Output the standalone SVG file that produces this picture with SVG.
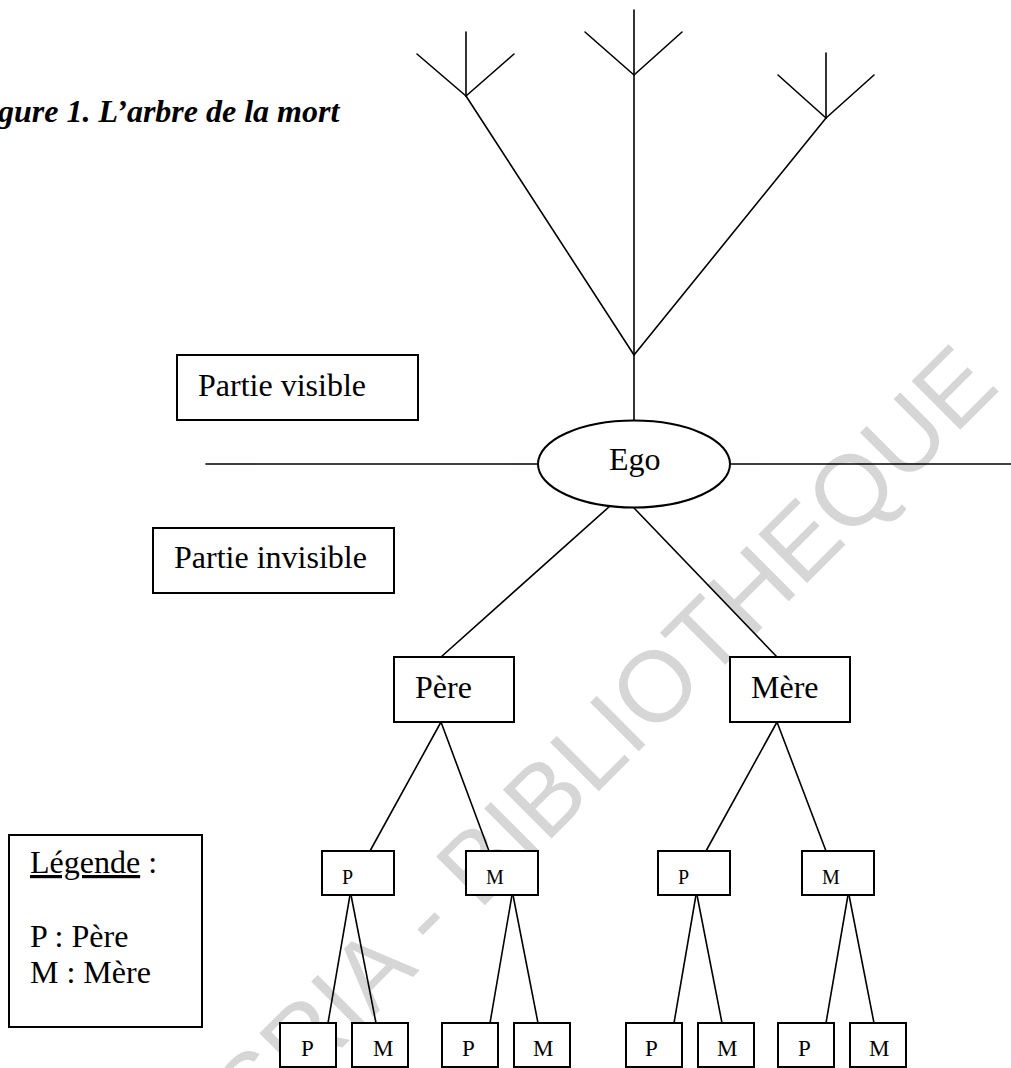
<svg xmlns="http://www.w3.org/2000/svg" width="1011" height="1068" viewBox="0 0 1011 1068">
<style>
.ln{stroke:#000;stroke-width:1.6;fill:none;stroke-linecap:round}
.bx{stroke:#000;stroke-width:2;fill:#fff}
.t{font-family:"Liberation Serif","Times New Roman",serif;fill:#000}
.big{font-size:32px}
.s3{font-size:20px}
.s4{font-size:23px}
.wm{font-family:"Liberation Sans",Arial,sans-serif;font-size:100px;fill:#d6d6d6}
</style>
<rect width="1011" height="1068" fill="#fff"/>
<text class="wm" transform="translate(255,1135) rotate(-45)">SRIA - BIBLIOTHEQUE</text>
<text class="t big" x="-2" y="122" font-weight="bold" font-style="italic">gure 1. L’arbre de la mort</text>
<g id="connectors">
<line class="ln" x1="634" y1="10" x2="634" y2="420"/>
<line class="ln" x1="585" y1="32" x2="634" y2="75"/>
<line class="ln" x1="682" y1="32" x2="634" y2="75"/>
<line class="ln" x1="466" y1="32" x2="466" y2="96"/>
<line class="ln" x1="417" y1="54" x2="466" y2="96"/>
<line class="ln" x1="514" y1="54" x2="466" y2="96"/>
<line class="ln" x1="466" y1="96" x2="634" y2="355"/>
<line class="ln" x1="826" y1="53" x2="826" y2="118"/>
<line class="ln" x1="778" y1="75" x2="826" y2="118"/>
<line class="ln" x1="874" y1="75" x2="826" y2="118"/>
<line class="ln" x1="826" y1="118" x2="634" y2="355"/>
<line class="ln" x1="206" y1="464" x2="538" y2="464"/>
<line class="ln" x1="730" y1="464" x2="1011" y2="464"/>
<line class="ln" x1="610" y1="506" x2="441" y2="657"/>
<line class="ln" x1="634" y1="508" x2="777" y2="657"/>
<line class="ln" x1="441" y1="722" x2="370" y2="851"/>
<line class="ln" x1="441" y1="722" x2="489" y2="851"/>
<line class="ln" x1="777" y1="722" x2="706" y2="851"/>
<line class="ln" x1="777" y1="722" x2="826" y2="851"/>
<line class="ln" x1="350" y1="895" x2="328" y2="1023"/>
<line class="ln" x1="351" y1="895" x2="376" y2="1023"/>
<line class="ln" x1="512" y1="895" x2="490" y2="1023"/>
<line class="ln" x1="513" y1="895" x2="538" y2="1023"/>
<line class="ln" x1="696" y1="895" x2="674" y2="1023"/>
<line class="ln" x1="697" y1="895" x2="722" y2="1023"/>
<line class="ln" x1="848" y1="895" x2="826" y2="1023"/>
<line class="ln" x1="849" y1="895" x2="874" y2="1023"/>
</g>
<g id="partie-visible"><rect class="bx" x="177" y="355" width="241" height="65"/><text class="t big" x="198" y="396">Partie visible</text></g>
<g id="partie-invisible"><rect class="bx" x="153" y="528" width="241" height="65"/><text class="t big" x="174" y="568">Partie invisible</text></g>
<g id="ego"><ellipse class="bx" cx="634" cy="464" rx="96" ry="43.5"/><text class="t big" x="609" y="470">Ego</text></g>
<g id="pere"><rect class="bx" x="394" y="657" width="120" height="65"/><text class="t big" x="415" y="698">Père</text></g>
<g id="mere"><rect class="bx" x="730" y="657" width="120" height="65"/><text class="t big" x="751" y="698">Mère</text></g>
<g id="p1"><rect class="bx" x="322" y="851" width="72" height="44"/><text class="t s3" x="342" y="884">P</text></g>
<g id="m1"><rect class="bx" x="466" y="851" width="72" height="44"/><text class="t s3" x="486" y="884">M</text></g>
<g id="p2"><rect class="bx" x="658" y="851" width="72" height="44"/><text class="t s3" x="678" y="884">P</text></g>
<g id="m2"><rect class="bx" x="802" y="851" width="72" height="44"/><text class="t s3" x="822" y="884">M</text></g>
<g id="pp1"><rect class="bx" x="280" y="1023" width="56" height="44"/><text class="t s4" x="301" y="1056">P</text></g>
<g id="pm1"><rect class="bx" x="352" y="1023" width="56" height="44"/><text class="t s4" x="373" y="1056">M</text></g>
<g id="mp1"><rect class="bx" x="442" y="1023" width="56" height="44"/><text class="t s4" x="462" y="1056">P</text></g>
<g id="mm1"><rect class="bx" x="514" y="1023" width="56" height="44"/><text class="t s4" x="533" y="1056">M</text></g>
<g id="pp2"><rect class="bx" x="626" y="1023" width="56" height="44"/><text class="t s4" x="645" y="1056">P</text></g>
<g id="pm2"><rect class="bx" x="698" y="1023" width="56" height="44"/><text class="t s4" x="717" y="1056">M</text></g>
<g id="mp2"><rect class="bx" x="778" y="1023" width="56" height="44"/><text class="t s4" x="798" y="1056">P</text></g>
<g id="mm2"><rect class="bx" x="850" y="1023" width="56" height="44"/><text class="t s4" x="869" y="1056">M</text></g>
<g id="legende"><rect class="bx" x="9" y="835" width="193" height="192"/>
<text class="t big" x="30" y="873"><tspan text-decoration="underline">Légende</tspan> :</text>
<text class="t big" x="30" y="947">P : Père</text>
<text class="t big" x="30" y="983">M : Mère</text></g>
</svg>
